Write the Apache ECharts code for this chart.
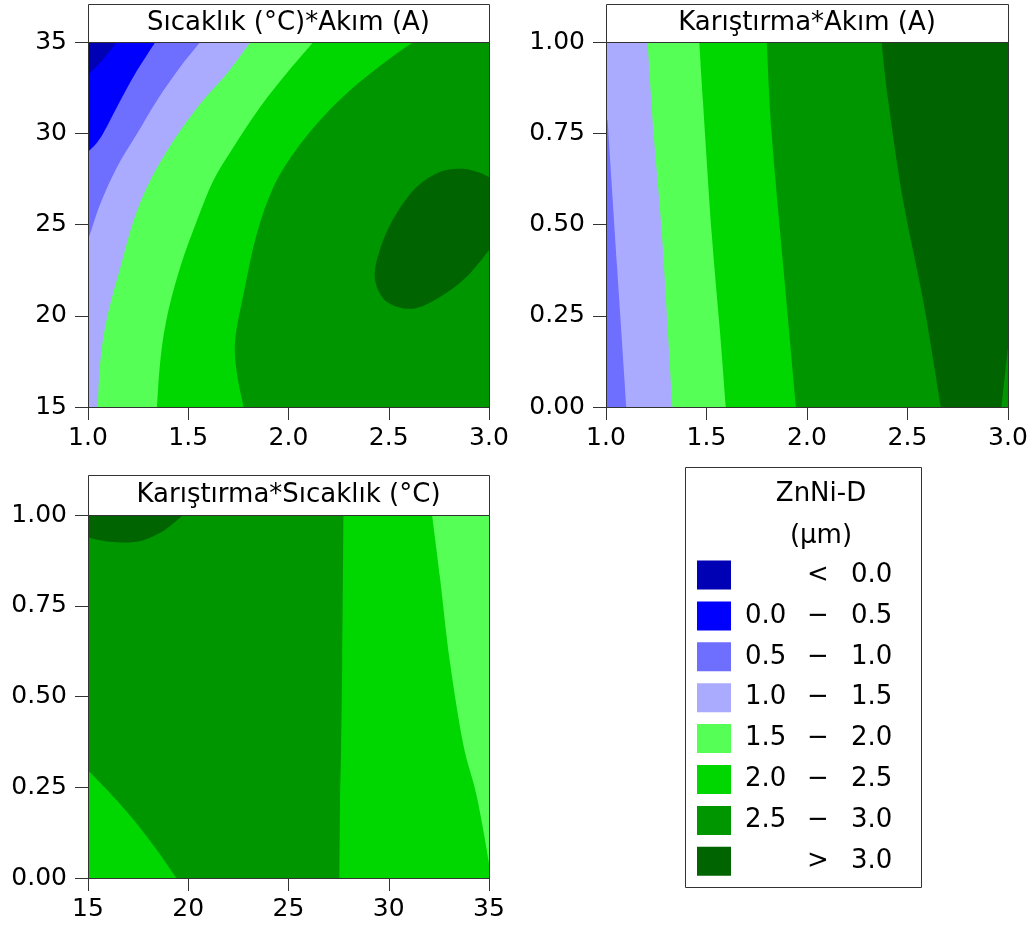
<!DOCTYPE html>
<html>
<head>
<meta charset="utf-8">
<script src="https://cdn.jsdelivr.net/npm/echarts@6/dist/echarts.min.js"></script>
<style>
html,body{margin:0;padding:0;background:#fff;}
#chart{width:1033px;height:930px;}
</style>
</head>
<body>
<div id="chart"></div>
<script>
// ---------- contour band levels & colours ----------
const levels = [0.0, 0.5, 1.0, 1.5, 2.0, 2.5, 3.0];
const bandColors = ['#0000B4', '#0000FF', '#6E6EFF', '#AAAAFF', '#55FF55', '#00D700', '#009600', '#006400'];
const legendTitle = ['ZnNi-D', '(µm)'];

// ---------- panel titles ----------
const panelTitles = ['Sıcaklık (°C)*Akım (A)', 'Karıştırma*Akım (A)', 'Karıştırma*Sıcaklık (°C)'];

// ---------- axis ranges ----------
const p1X = [1.0, 3.0], p1Y = [15, 35];
const p2X = [1.0, 3.0], p2Y = [0.0, 1.0];
const p3X = [15, 35],  p3Y = [0.0, 1.0];

// ---------- Panel 1: Sıcaklık (y) vs Akım (x) contour lines ----------
const p1_c00 = [[1.143, 35], [1.071, 34.0], [1.0, 33.2]];
const p1_c05 = [[1.336, 35], [1.236, 33.27], [1.153, 31.62], [1.065, 29.8], [1.0, 28.97]];
const p1_c10 = [[1.56, 35], [1.46, 33.63], [1.344, 31.8], [1.245, 29.98], [1.145, 28.15], [1.062, 26.15], [1.0, 24.13]];
const p1_c15 = [[1.81, 35], [1.693, 33.27], [1.56, 31.62], [1.427, 29.6], [1.311, 27.42], [1.228, 25.23], [1.162, 22.67], [1.096, 19.93], [1.062, 17.56], [1.049, 15]];
const p1_c20 = [[2.124, 35], [1.99, 33.27], [1.859, 31.44], [1.726, 29.25], [1.626, 27.42], [1.544, 25.23], [1.46, 22.67], [1.394, 19.93], [1.361, 17.56], [1.344, 15]];
const p1_c25 = [[2.622, 35], [2.472, 33.82], [2.307, 32.35], [2.157, 30.71], [2.024, 28.88], [1.925, 27.05], [1.842, 24.5], [1.776, 21.21], [1.734, 18.65], [1.743, 16.83], [1.776, 15]];
const p1_c30 = [[3.0, 23.59], [2.887, 22.12], [2.755, 21.03], [2.622, 20.39], [2.506, 20.66], [2.448, 21.39], [2.431, 22.49], [2.472, 24.13], [2.539, 25.6], [2.639, 27.05], [2.755, 27.88], [2.871, 28.06], [2.95, 27.85], [3.0, 27.6]];

// ---------- Panel 2: Karıştırma (y) vs Akım (x) ----------
const p2_c10 = [[1.008, 0.785], [1.055, 0.384], [1.101, 0.0]];
const p2_c15 = [[1.207, 1.0], [1.237, 0.749], [1.278, 0.475], [1.331, 0.0]];
const p2_c20 = [[1.464, 1.0], [1.482, 0.84], [1.526, 0.475], [1.568, 0.2], [1.596, 0.0]];
const p2_c25 = [[1.8, 1.0], [1.824, 0.749], [1.882, 0.384], [1.945, 0.0]];
const p2_c30 = [[2.371, 1.0], [2.404, 0.84], [2.478, 0.566], [2.578, 0.292], [2.666, 0.0]];
const p2_c30b = [[3.0, 0.164], [2.967, 0.0]];

// ---------- Panel 3: Karıştırma (y) vs Sıcaklık (x) ----------
const p3_c30 = [[15, 0.938], [16.1, 0.926], [17.45, 0.926], [18.45, 0.947], [19.1, 0.97], [19.74, 1.0]];
const p3_c25a = [[15, 0.296], [16.13, 0.232], [17.29, 0.159], [18.45, 0.076], [19.41, 0.0]];
const p3_c25b = [[27.74, 1.0], [27.68, 0.6], [27.62, 0.35], [27.57, 0.2], [27.54, 0.0]];
const p3_c20 = [[32.16, 1.0], [32.55, 0.83], [33.04, 0.6], [33.71, 0.37], [34.37, 0.23], [34.97, 0.05], [35, 0.0]];

// ---------- layout ----------
const FONT = 'DejaVu Sans';
const AXC = '#333333';
const grids = [
  {left: 88, top: 42, width: 401, height: 365},
  {left: 606, top: 42, width: 402, height: 365},
  {left: 88, top: 515, width: 401, height: 363}
];
const headerTops = [4, 4, 475];

function frame(xr, yr) {
  return [[xr[0], yr[0]], [xr[1], yr[0]], [xr[1], yr[1]], [xr[0], yr[1]]];
}
// region: straight frame points (pre), a contour curve drawn smoothly, straight frame points (post), closed
function buildPath(pre, curve, post) {
  const f = p => p[0].toFixed(2) + ' ' + p[1].toFixed(2);
  let d = '';
  const start = pre.length ? pre : [curve[0]];
  d += 'M' + f(start[0]);
  for (let i = 1; i < start.length; i++) d += ' L' + f(start[i]);
  if (pre.length && curve.length) d += ' L' + f(curve[0]);
  for (let i = 0; i < curve.length - 1; i++) {
    const p0 = curve[i - 1] || curve[i], p1 = curve[i], p2 = curve[i + 1], p3 = curve[i + 2] || curve[i + 1];
    const c1 = [p1[0] + (p2[0] - p0[0]) / 6, p1[1] + (p2[1] - p0[1]) / 6];
    const c2 = [p2[0] - (p3[0] - p1[0]) / 6, p2[1] - (p3[1] - p1[1]) / 6];
    d += ' C' + f(c1) + ' ' + f(c2) + ' ' + f(p2);
  }
  for (let i = 0; i < post.length; i++) d += ' L' + f(post[i]);
  return d + ' Z';
}
function region(gi, pre, curve, post, color) {
  const all = pre.concat(curve, post);
  return {
    type: 'custom', coordinateSystem: 'cartesian2d', xAxisIndex: gi, yAxisIndex: gi,
    clip: true, silent: true, animation: false, z: 2,
    data: all,
    renderItem: function (params, api) {
      if (params.dataIndex !== 0) return null;
      const c = p => api.coord(p);
      return {type: 'path', shape: {pathData: buildPath(pre.map(c), curve.map(c), post.map(c))},
        style: {fill: color, stroke: null}};
    }
  };
}
function xAxisDef(gi, r, interval, dec) {
  return {
    gridIndex: gi, type: 'value', min: r[0], max: r[1], interval: interval,
    axisLine: {show: true, onZero: false, lineStyle: {color: AXC, width: 1}},
    axisTick: {show: true, length: 13, lineStyle: {color: AXC}},
    splitLine: {show: false},
    axisLabel: {fontFamily: FONT, fontSize: 25, color: '#000', margin: 19,
      showMinLabel: true, showMaxLabel: true, formatter: v => v.toFixed(dec)},
    z: 10
  };
}
function yAxisDef(gi, r, interval, dec) {
  const a = xAxisDef(gi, r, interval, dec);
  a.axisLabel.margin = 21;
  return a;
}

const series = [];
// Panel 1 (layered from highest band down)
series.push(region(0, frame(p1X, p1Y), [], [], bandColors[6]));
series.push(region(0, [[1.0, 35]], p1_c25, [[1.0, 15]], bandColors[5]));
series.push(region(0, [[1.0, 35]], p1_c20, [[1.0, 15]], bandColors[4]));
series.push(region(0, [[1.0, 35]], p1_c15, [[1.0, 15]], bandColors[3]));
series.push(region(0, [[1.0, 35]], p1_c10, [], bandColors[2]));
series.push(region(0, [[1.0, 35]], p1_c05, [], bandColors[1]));
series.push(region(0, [[1.0, 35]], p1_c00, [], bandColors[0]));
series.push(region(0, [], p1_c30, [], bandColors[7]));
// Panel 2
series.push(region(1, frame(p2X, p2Y), [], [], bandColors[7]));
series.push(region(1, [[1.0, 1.0]], p2_c30, [[1.0, 0.0]], bandColors[6]));
series.push(region(1, [[1.0, 1.0]], p2_c25, [[1.0, 0.0]], bandColors[5]));
series.push(region(1, [[1.0, 1.0]], p2_c20, [[1.0, 0.0]], bandColors[4]));
series.push(region(1, [[1.0, 1.0]], p2_c15, [[1.0, 0.0]], bandColors[3]));
series.push(region(1, [[1.0, 0.79]], p2_c10, [[1.0, 0.0]], bandColors[2]));
series.push(region(1, [], p2_c30b, [[3.0, 0.0]], bandColors[6]));
// Panel 3
series.push(region(2, frame(p3X, p3Y), [], [], bandColors[6]));
series.push(region(2, [[15, 1.0]], p3_c30, [], bandColors[7]));
series.push(region(2, [], p3_c25a, [[15, 0.0]], bandColors[5]));
series.push(region(2, [], p3_c25b, [[35, 0.0], [35, 1.0]], bandColors[5]));
series.push(region(2, [], p3_c20, [[35, 1.0]], bandColors[4]));

// ---------- graphics: headers, plot frames, legend ----------
const graphics = [];
grids.forEach((g, i) => {
  const ht = headerTops[i];
  graphics.push({type: 'rect', z: 100, shape: {x: g.left + 0.5, y: ht + 0.5, width: g.width, height: g.top - ht},
    style: {fill: '#fff', stroke: AXC, lineWidth: 1}});
  graphics.push({type: 'text', z: 101, x: g.left + g.width / 2, y: (ht + g.top) / 2 + 0.5,
    style: {text: panelTitles[i], font: '26px "' + FONT + '"', fill: '#000', textAlign: 'center', textVerticalAlign: 'middle'}});
  graphics.push({type: 'rect', z: 100, shape: {x: g.left + 0.5, y: g.top + 0.5, width: g.width, height: g.height},
    style: {fill: 'none', stroke: AXC, lineWidth: 1}});
});

const LG = {x: 685, y: 467, w: 236, h: 420};
graphics.push({type: 'rect', z: 100, shape: {x: LG.x + 0.5, y: LG.y + 0.5, width: LG.w, height: LG.h},
  style: {fill: '#fff', stroke: AXC, lineWidth: 1}});
legendTitle.forEach((t, i) => {
  graphics.push({type: 'text', z: 101, x: 821, y: 494 + i * 42,
    style: {text: t, font: '26px "' + FONT + '"', fill: '#000', textAlign: 'center', textVerticalAlign: 'middle'}});
});
const rows = [];
rows.push(['', '<', levels[0].toFixed(1)]);
for (let i = 1; i < levels.length; i++) rows.push([levels[i - 1].toFixed(1), '−', levels[i].toFixed(1)]);
rows.push(['', '>', levels[levels.length - 1].toFixed(1)]);
rows.forEach((r, i) => {
  const cy = 575 + i * 40.9;
  graphics.push({type: 'rect', z: 101, shape: {x: 697, y: cy - 14.5, width: 34, height: 29}, style: {fill: bandColors[i]}});
  const f = '26px "' + FONT + '"';
  if (r[0]) graphics.push({type: 'text', z: 101, x: 745, y: cy, style: {text: r[0], font: f, fill: '#000', textAlign: 'left', textVerticalAlign: 'middle'}});
  graphics.push({type: 'text', z: 101, x: 818, y: cy, style: {text: r[1], font: f, fill: '#000', textAlign: 'center', textVerticalAlign: 'middle'}});
  graphics.push({type: 'text', z: 101, x: 851, y: cy, style: {text: r[2], font: f, fill: '#000', textAlign: 'left', textVerticalAlign: 'middle'}});
});

const option = {
  backgroundColor: '#fff',
  animation: false,
  grid: grids.map(g => Object.assign({containLabel: false}, g)),
  xAxis: [xAxisDef(0, p1X, 0.5, 1), xAxisDef(1, p2X, 0.5, 1), xAxisDef(2, p3X, 5, 0)],
  yAxis: [yAxisDef(0, p1Y, 5, 0), yAxisDef(1, p2Y, 0.25, 2), yAxisDef(2, p3Y, 0.25, 2)],
  series: series,
  graphic: {elements: graphics}
};
const chart = echarts.init(document.getElementById('chart'), null, {renderer: 'canvas'});
chart.setOption(option);
</script>
</body>
</html>
